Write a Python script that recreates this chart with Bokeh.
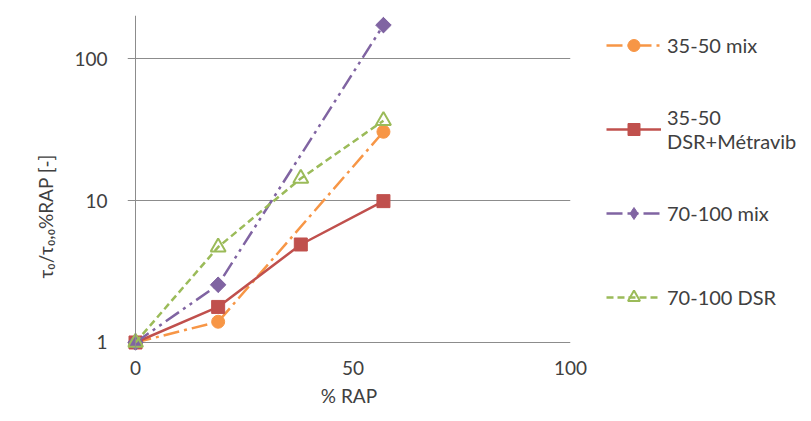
from bokeh.plotting import figure
from bokeh.models import Range1d, FixedTicker, Span, Legend, LegendItem, NumeralTickFormatter, Title
from bokeh.embed import file_html
from bokeh.resources import INLINE

# Data
x_mix_3550 = [0, 19, 57]
y_mix_3550 = [1.0, 1.4, 30.5]
x_dsr_3550 = [0, 19, 38, 57]
y_dsr_3550 = [1.0, 1.78, 4.9, 9.9]
x_mix_70100 = [0, 19, 57]
y_mix_70100 = [1.0, 2.55, 172]
x_dsr_70100 = [0, 19, 38, 57]
y_dsr_70100 = [1.0, 4.7, 14.3, 36.5]

labels = ["35-50 mix", "35-50\nDSR+Métravib", "70-100 mix", "70-100 DSR"]
y_ticks = [1, 10, 100]
x_ticks = [0, 50, 100]

FONT = "Lato"
TXT = "#404040"
FS = "19px"

ORANGE, RED, PURPLE, GREEN = "#F79646", "#C0504D", "#8064A2", "#9BBB59"

p = figure(width=795, height=405, output_backend="svg", toolbar_location=None,
           y_axis_type="log",
           x_range=Range1d(-1.84, 100), y_range=Range1d(0.878, 201),
           min_border_left=127, min_border_right=225, min_border_top=15, min_border_bottom=55)
p.frame_width = 443
p.frame_height = 335
p.outline_line_color = None
p.background_fill_color = "white"
p.border_fill_color = "white"

p.xgrid.grid_line_color = None
p.ygrid.grid_line_color = "#8c8c8c"
p.ygrid.grid_line_width = 1
p.ygrid.ticker = FixedTicker(ticks=y_ticks)

p.xaxis.ticker = FixedTicker(ticks=x_ticks)
p.yaxis.ticker = FixedTicker(ticks=y_ticks, minor_ticks=[])
p.yaxis.formatter = NumeralTickFormatter(format="0")
for ax in (p.xaxis[0], p.yaxis[0]):
    ax.axis_line_color = None
    ax.major_tick_line_color = None
    ax.minor_tick_line_color = None
    ax.major_label_text_font = FONT
    ax.major_label_text_font_size = FS
    ax.major_label_text_color = TXT
    ax.axis_label_text_font = FONT
    ax.axis_label_text_font_style = "normal"
    ax.axis_label_text_font_size = FS
    ax.axis_label_text_color = TXT
p.yaxis.major_label_standoff = 14
p.xaxis.major_label_standoff = 4
p.xaxis.axis_label = "% RAP"
p.xaxis.axis_label_standoff = 6

ytitle = Title(text="τ₀/τ₀,₀%RAP [-]", align="left", offset=72,
               text_font=FONT, text_font_size="19px", text_font_style="normal",
               text_color=TXT, standoff=30)
p.add_layout(ytitle, "left")

p.add_layout(Span(location=0, dimension="height", line_color="#8c8c8c", line_width=1))

LW = 2.5
r1l = p.line(x_mix_3550, y_mix_3550, line_color=ORANGE, line_width=LW, line_dash="16 5 3 5")
r1m = p.scatter(x_mix_3550, y_mix_3550, marker="circle", size=13, fill_color=ORANGE, line_color=ORANGE)
r2l = p.line(x_dsr_3550, y_dsr_3550, line_color=RED, line_width=LW)
r2m = p.scatter(x_dsr_3550, y_dsr_3550, marker="square", size=13, fill_color=RED, line_color=RED)
r3l = p.line(x_mix_70100, y_mix_70100, line_color=PURPLE, line_width=LW, line_dash="16 5 3 5 3 5")
r3proxy = p.scatter(x_mix_70100, y_mix_70100, marker="diamond", size=15, fill_color=PURPLE, line_color=PURPLE)
r3m = p.scatter(x_mix_70100, y_mix_70100, marker="square", angle=0.785, size=11, fill_color=PURPLE, line_color=PURPLE)
r4l = p.line(x_dsr_70100, y_dsr_70100, line_color=GREEN, line_width=LW, line_dash="7 4")
r4m = p.scatter(x_dsr_70100, y_dsr_70100, marker="triangle", size=15, fill_alpha=0, line_color=GREEN, line_width=2)

legend = Legend(items=[
    LegendItem(label=labels[0], renderers=[r1l, r1m]),
    LegendItem(label=labels[1], renderers=[r2l, r2m]),
    LegendItem(label=labels[2], renderers=[r3l, r3proxy]),
    LegendItem(label=labels[3], renderers=[r4l, r4m]),
], location=(36, 28), orientation="vertical")
legend.border_line_color = None
legend.background_fill_alpha = 0
legend.label_text_font = FONT
legend.label_text_font_size = "20px"
legend.label_text_line_height = 1.0
legend.label_text_color = TXT
legend.glyph_width = 55
legend.glyph_height = 30
legend.label_height = 50
legend.label_standoff = 6
legend.spacing = 34
legend.padding = 0
legend.margin = 0
p.add_layout(legend, "right")

open("out.html", "w").write(file_html(p, INLINE))
